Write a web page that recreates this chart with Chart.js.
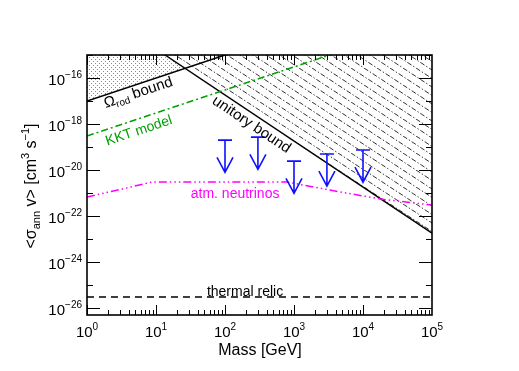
<!DOCTYPE html>
<html>
<head>
<meta charset="utf-8">
<script src="https://cdn.jsdelivr.net/npm/chart.js@4"></script>
<style>
  body { margin: 0; background: #fff; }
  canvas { display: block; }
</style>
</head>
<body>
<canvas id="chart" width="519" height="371"></canvas>
<script>
// values: mass in GeV, <sigma v> in cm^3 s^-1
const omegaMass = [1, 100];
const omegaSigma = [1e-17, 1e-15];
const unitaryMass = [13.5, 1e5];
const unitarySigma = [1e-15, 1.82e-23];
const kktMass = [1, 3300];
const kktSigma = [3e-19, 1e-15];
const atmMass = [1, 2.8, 8.7, 800, 3300, 17800, 1e5];
const atmSigma = [6.8e-22, 1.35e-21, 3e-21, 3e-21, 1.35e-21, 5.5e-22, 3e-22];
const relicMass = [1, 1e5];
const relicSigma = [3e-26, 3e-26];
const limitMass = [100, 300, 1000, 3000, 10000];
const limitSigma = [2e-19, 2.7e-19, 2.45e-20, 5e-20, 7.4e-20];
const xTickExp = [0, 1, 2, 3, 4, 5];
const yTickExp = [-16, -18, -20, -22, -24, -26];

const FONT = "'Liberation Sans', Arial, sans-serif";

function pts(xs, ys) {
    return xs.map((x, i) => ({ x: x, y: ys[i] }));
}

// dashed diagonal hatching for the unitarity region
function hatchPattern() {
    const c = document.createElement("canvas");
    c.width = 26;
    c.height = 17;
    const g = c.getContext("2d");
    g.fillStyle = "#fff";
    g.fillRect(0, 0, 26, 17);
    g.strokeStyle = "#333";
    g.lineWidth = 1;
    g.setLineDash([5, 2, 1.35, 2]);
    [-26, -13, 0, 13].forEach(x0 => {
        g.beginPath();
        g.moveTo(x0, 0);
        g.lineTo(x0 + 26, 17);
        g.stroke();
    });
    return g.createPattern(c, "repeat");
}

// stipple for the relic density region
function dotPattern() {
    const c = document.createElement("canvas");
    c.width = 4;
    c.height = 4;
    const g = c.getContext("2d");
    g.fillStyle = "#fff";
    g.fillRect(0, 0, 4, 4);
    g.fillStyle = "#8a8a8a";
    g.fillRect(1, 1, 1, 1);
    g.fillRect(3, 3, 1, 1);
    return g.createPattern(c, "repeat");
}

function richText(ctx, parts, x, y, angle, color) {
    ctx.save();
    ctx.translate(x, y);
    ctx.rotate(angle);
    ctx.fillStyle = color;
    ctx.textBaseline = "alphabetic";
    ctx.textAlign = "left";
    let w = 0;
    parts.forEach(p => {
        ctx.font = p.size + "px " + FONT;
        p.w = ctx.measureText(p.t).width;
        w += p.w;
    });
    let cx = -w / 2;
    parts.forEach(p => {
        ctx.font = p.size + "px " + FONT;
        ctx.fillText(p.t, cx, 5 + (p.dy || 0));
        cx += p.w;
    });
    ctx.restore();
}

// "10" with a raised exponent; align is "right" or "center"
function powLabel(ctx, e, x, baseline, align) {
    const exp = String(e).replace("-", "−");
    ctx.font = "15px " + FONT;
    const w1 = ctx.measureText("10").width;
    ctx.font = "10px " + FONT;
    const w2 = ctx.measureText(exp).width;
    const left = align === "right" ? x - w1 - w2 : x - (w1 + w2) / 2;
    ctx.fillStyle = "#000";
    ctx.textAlign = "left";
    ctx.textBaseline = "alphabetic";
    ctx.font = "15px " + FONT;
    ctx.fillText("10", left, baseline);
    ctx.font = "10px " + FONT;
    ctx.fillText(exp, left + w1, baseline - 7);
}

function lineAngle(chart, xs, ys) {
    const sx = chart.scales.x, sy = chart.scales.y;
    const dx = sx.getPixelForValue(xs[1]) - sx.getPixelForValue(xs[0]);
    const dy = sy.getPixelForValue(ys[1]) - sy.getPixelForValue(ys[0]);
    return Math.atan2(dy, dx);
}

// frame + inward ticks on all four sides, and the tick labels
const framePlugin = {
    id: "frame",
    afterDatasetsDraw(chart) {
        const ctx = chart.ctx, a = chart.chartArea;
        const sx = chart.scales.x, sy = chart.scales.y;
        ctx.save();
        ctx.strokeStyle = "#000";
        ctx.lineWidth = 1;
        ctx.beginPath();
        for (let e = 0; e < 5; e++) {
            for (let k = 1; k < 10; k++) {
                const px = Math.round(sx.getPixelForValue(k * Math.pow(10, e))) + 0.5;
                const len = k === 1 ? 10 : 5;
                ctx.moveTo(px, a.bottom);
                ctx.lineTo(px, a.bottom - len);
                ctx.moveTo(px, a.top);
                ctx.lineTo(px, a.top + len);
            }
        }
        for (let e = -26; e <= -15; e++) {
            const py = Math.round(sy.getPixelForValue(Math.pow(10, e))) + 0.5;
            const len = e % 2 === 0 ? 13 : 6;
            ctx.moveTo(a.left, py);
            ctx.lineTo(a.left + len, py);
            ctx.moveTo(a.right, py);
            ctx.lineTo(a.right - len, py);
        }
        ctx.stroke();
        ctx.lineWidth = 1.6;
        ctx.strokeRect(a.left, a.top, a.right - a.left, a.bottom - a.top);

        sx.ticks.forEach(t => {
            powLabel(ctx, Math.round(Math.log10(t.value)), sx.getPixelForValue(t.value), a.bottom + 22, "center");
        });
        sy.ticks.forEach(t => {
            powLabel(ctx, Math.round(Math.log10(t.value)), a.left - 5, sy.getPixelForValue(t.value) + 7, "right");
        });
        ctx.restore();
    }
};

// upper limit arrows
const arrowPlugin = {
    id: "arrows",
    afterDatasetsDraw(chart) {
        const ctx = chart.ctx;
        const sx = chart.scales.x, sy = chart.scales.y;
        ctx.save();
        ctx.strokeStyle = "#1010ff";
        ctx.lineWidth = 1.6;
        limitMass.forEach((m, i) => {
            const px = sx.getPixelForValue(m);
            const top = sy.getPixelForValue(limitSigma[i]);
            const tip = sy.getPixelForValue(limitSigma[i] / Math.pow(10, 1.4));
            ctx.beginPath();
            ctx.moveTo(px - 7, top);
            ctx.lineTo(px + 7, top);
            ctx.moveTo(px, top);
            ctx.lineTo(px, tip);
            ctx.moveTo(px - 8, tip - 15);
            ctx.lineTo(px, tip);
            ctx.lineTo(px + 8, tip - 15);
            ctx.stroke();
        });
        ctx.restore();
    }
};

// curve labels and axis titles
const textPlugin = {
    id: "texts",
    afterDraw(chart) {
        const ctx = chart.ctx;
        const sx = chart.scales.x, sy = chart.scales.y;
        const at = (m, s) => [sx.getPixelForValue(m), sy.getPixelForValue(s)];
        let p;

        p = at(5.5, 2.45e-17);
        richText(ctx, [{ t: "Ω", size: 15 }, { t: "rod", size: 10, dy: 3 }, { t: " bound", size: 15 }],
            p[0], p[1], lineAngle(chart, omegaMass, omegaSigma), "#000");

        p = at(5.6, 5.6e-19);
        richText(ctx, [{ t: "KKT model", size: 14 }], p[0], p[1], lineAngle(chart, kktMass, kktSigma), "#00a000");

        p = at(245, 1e-18);
        richText(ctx, [{ t: "unitory bound", size: 15 }], p[0], p[1], lineAngle(chart, unitaryMass, unitarySigma), "#000");

        p = at(140, 1e-21);
        richText(ctx, [{ t: "atm. neutrinos", size: 14 }], p[0], p[1], 0, "#ff00ff");

        p = at(195, 5.6e-26);
        richText(ctx, [{ t: "thermal relic", size: 14 }], p[0], p[1], 0, "#000");

        richText(ctx, [{ t: "Mass [GeV]", size: 16 }], 260, 350, 0, "#000");

        richText(ctx, [
            { t: "<σ", size: 16 },
            { t: "ann", size: 11, dy: 4 },
            { t: " v> [cm", size: 16 },
            { t: "3", size: 11, dy: -7 },
            { t: " s", size: 16 },
            { t: "−1", size: 11, dy: -7 },
            { t: "]", size: 16 }
        ], 31, 186, -Math.PI / 2, "#000");
    }
};

function lineSet(xs, ys, color, dash, extra) {
    return Object.assign({
        data: pts(xs, ys),
        showLine: true,
        borderColor: color,
        borderWidth: 1.5,
        borderDash: dash,
        pointRadius: 0,
        fill: false,
        tension: 0
    }, extra || {});
}

new Chart(document.getElementById("chart"), {
    type: "scatter",
    data: {
        datasets: [
            lineSet(omegaMass, omegaSigma, "#000", [], { fill: "end", backgroundColor: dotPattern(), order: 6 }),
            lineSet(unitaryMass, unitarySigma, "#000", [], { fill: "end", backgroundColor: hatchPattern(), order: 5 }),
            lineSet(kktMass, kktSigma, "#00a000", [7, 3, 2, 3], { order: 4 }),
            lineSet(atmMass, atmSigma, "#ff00ff", [8, 3, 1.5, 3, 1.5, 3, 1.5, 3], { order: 3 }),
            lineSet(relicMass, relicSigma, "#000", [7, 5], { order: 2 })
        ]
    },
    options: {
        responsive: false,
        animation: false,
        devicePixelRatio: 1,
        layout: { padding: { left: 0, top: 55, right: 87, bottom: 0 } },
        plugins: {
            legend: { display: false },
            tooltip: { enabled: false },
            filler: { drawTime: "beforeDatasetsDraw" }
        },
        scales: {
            x: {
                type: "logarithmic",
                min: 1,
                max: 1e5,
                afterBuildTicks: s => { s.ticks = xTickExp.map(e => ({ value: Math.pow(10, e) })); },
                afterFit: s => { s.height = 56; },
                grid: { display: false },
                border: { display: false },
                ticks: { display: false }
            },
            y: {
                type: "logarithmic",
                min: 5e-27,
                max: 1e-15,
                afterBuildTicks: s => { s.ticks = yTickExp.map(e => ({ value: Math.pow(10, e) })); },
                afterFit: s => { s.width = 87; },
                grid: { display: false },
                border: { display: false },
                ticks: { display: false }
            }
        }
    },
    plugins: [framePlugin, arrowPlugin, textPlugin]
});
</script>
</body>
</html>
